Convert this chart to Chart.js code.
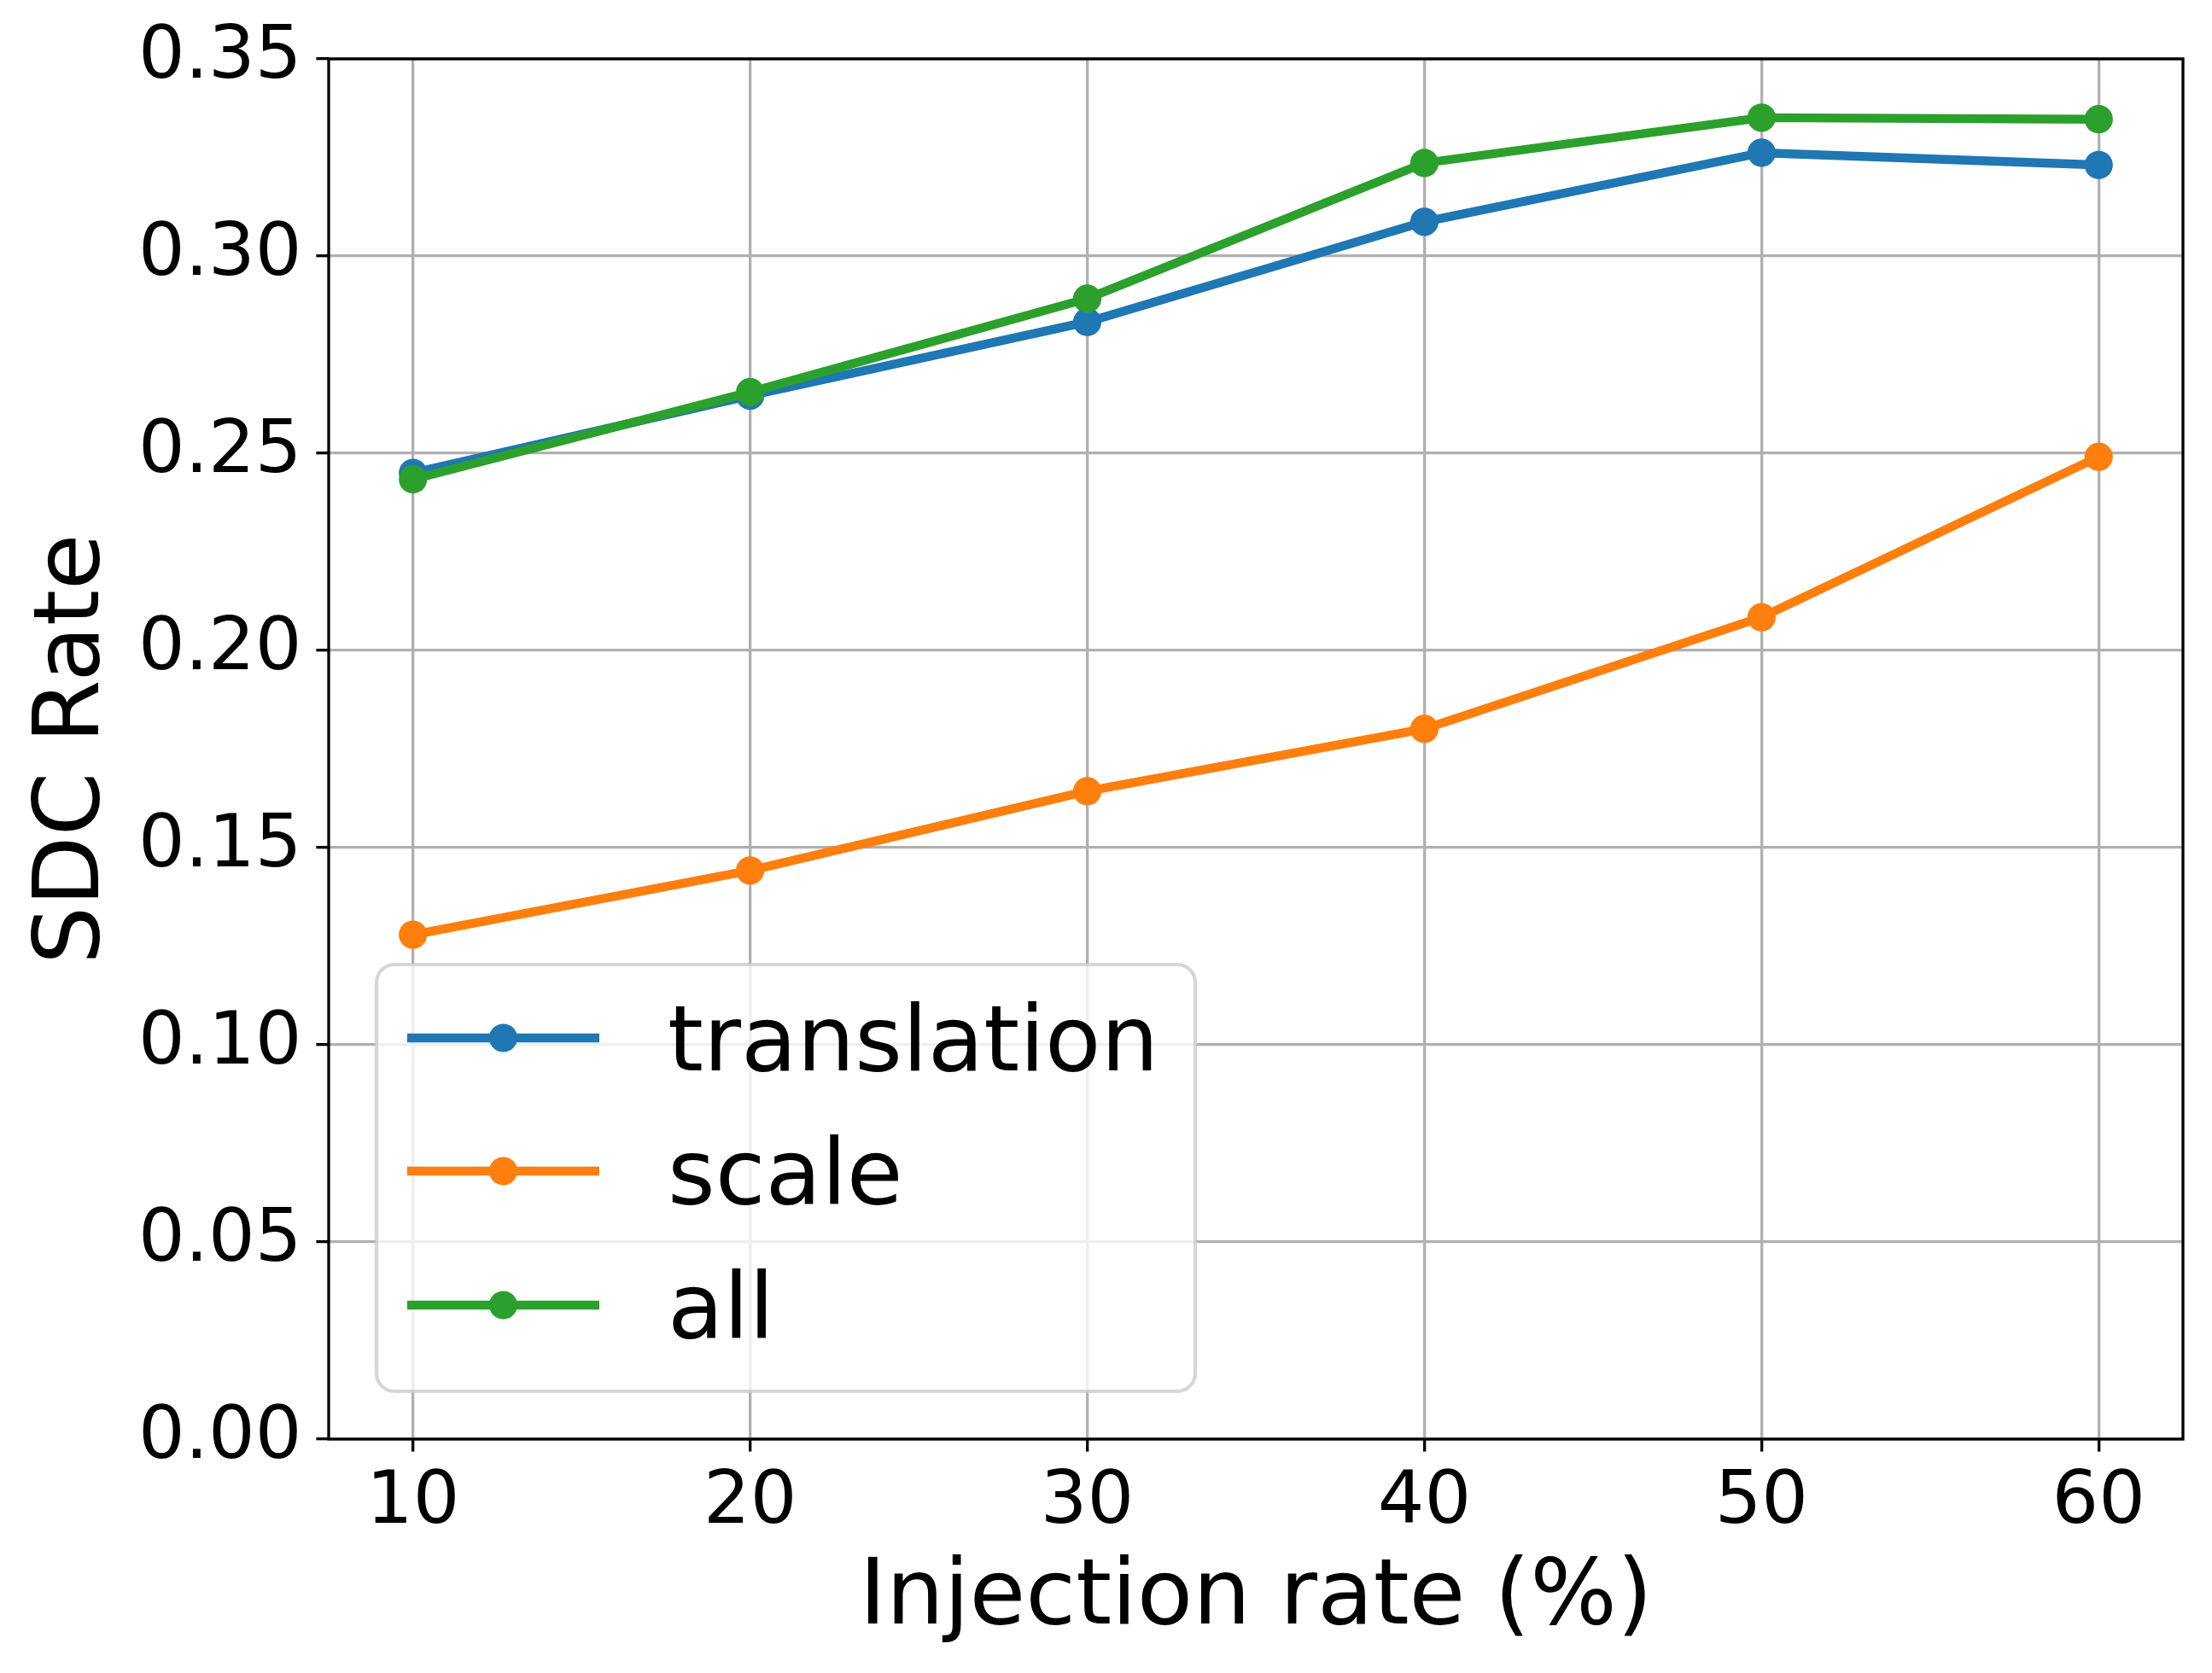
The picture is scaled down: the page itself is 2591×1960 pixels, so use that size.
<!DOCTYPE html>
<html>
<head>
<meta charset="utf-8">
<script src="https://cdn.jsdelivr.net/npm/chart.js@4/dist/chart.umd.min.js"></script>
<style>
  html, body { margin: 0; padding: 0; background: #ffffff; }
  #wrap { width: 2591px; height: 1960px; position: relative; }
  canvas { display: block; }
</style>
</head>
<body>
<div id="wrap"><canvas id="c" width="2591" height="1960"></canvas></div>
<script>
// ---- data ----
const injectionRates = [10, 20, 30, 40, 50, 60];
const translationSDC = [0.2450, 0.2646, 0.2833, 0.3087, 0.3262, 0.3231];
const scaleSDC       = [0.1279, 0.1442, 0.1643, 0.1801, 0.2084, 0.2491];
const allSDC         = [0.2434, 0.2655, 0.2892, 0.3236, 0.3351, 0.3347];
const seriesNames    = ['translation', 'scale', 'all'];
const xTickValues    = [10, 20, 30, 40, 50, 60];
const yTickValues    = [0.00, 0.05, 0.10, 0.15, 0.20, 0.25, 0.30, 0.35];
const xTitle = 'Injection rate (%)';
const yTitle = 'SDC Rate';

// ---- styles ----
const colors = ['#1f77b4', '#ff7f0e', '#2ca02c'];
const FONT = "'DejaVu Sans', sans-serif";
const TICKFS = 86;
const LABELFS = 107;
const LW = 10.4;        // line width
const MR = 16.6;        // marker radius
const AXLW = 3.33;      // axes / grid / tick width
const TICKLEN = 14.6;

function pts(ys) { return injectionRates.map((x, i) => ({ x: x, y: ys[i] })); }
const seriesValues = [translationSDC, scaleSDC, allSDC];

const datasets = seriesNames.map((name, i) => ({
  label: name,
  data: pts(seriesValues[i]),
  borderColor: colors[i],
  backgroundColor: colors[i],
  borderWidth: LW,
  pointRadius: MR,
  pointHoverRadius: MR,
  pointBorderWidth: 0,
  pointBackgroundColor: colors[i],
  tension: 0,
  fill: false,
  order: seriesNames.length - i,
  clip: false
}));

// frame + legend plugin
const framePlugin = {
  id: 'frameAndLegend',
  afterDraw(chart) {
    const ctx = chart.ctx;
    const a = chart.chartArea;
    ctx.save();
    // axes frame (all four spines)
    ctx.strokeStyle = '#000000';
    ctx.lineWidth = AXLW;
    ctx.lineJoin = 'miter';
    ctx.strokeRect(a.left, a.top, a.right - a.left, a.bottom - a.top);

    // legend box, lower-left inside axes
    const bx = a.left + 56, bw = 959, bh = 500;
    const by = a.bottom - 56 - bh;
    const r = 21;
    ctx.beginPath();
    ctx.moveTo(bx + r, by);
    ctx.lineTo(bx + bw - r, by);
    ctx.arcTo(bx + bw, by, bx + bw, by + r, r);
    ctx.lineTo(bx + bw, by + bh - r);
    ctx.arcTo(bx + bw, by + bh, bx + bw - r, by + bh, r);
    ctx.lineTo(bx + r, by + bh);
    ctx.arcTo(bx, by + bh, bx, by + bh - r, r);
    ctx.lineTo(bx, by + r);
    ctx.arcTo(bx, by, bx + r, by, r);
    ctx.closePath();
    ctx.fillStyle = 'rgba(255,255,255,0.8)';
    ctx.fill();
    ctx.lineWidth = 4.17;
    ctx.strokeStyle = 'rgba(204,204,204,0.8)';
    ctx.stroke();

    const rowOffsets = [86, 242, 399];
    chart.data.datasets.forEach((ds, i) => {
      const ry = by + rowOffsets[i];
      ctx.strokeStyle = ds.borderColor;
      ctx.lineWidth = LW;
      ctx.lineCap = 'butt';
      ctx.beginPath();
      ctx.moveTo(bx + 36, ry);
      ctx.lineTo(bx + 261, ry);
      ctx.stroke();
      ctx.fillStyle = ds.borderColor;
      ctx.beginPath();
      ctx.arc(bx + 148.5, ry, MR, 0, Math.PI * 2);
      ctx.fill();
      ctx.fillStyle = '#000000';
      ctx.font = LABELFS + 'px ' + FONT;
      ctx.textAlign = 'left';
      ctx.textBaseline = 'alphabetic';
      ctx.fillText(ds.label, bx + 341, ry + 38);
    });
    ctx.restore();
  }
};

new Chart(document.getElementById('c'), {
  type: 'line',
  data: { datasets: datasets },
  options: {
    responsive: false,
    devicePixelRatio: 1,
    animation: false,
    events: [],
    layout: { autoPadding: false, padding: { top: 69, right: 34, left: 0, bottom: 0 } },
    plugins: { legend: { display: false }, tooltip: { enabled: false } },
    scales: {
      x: {
        type: 'linear',
        min: 7.5,
        max: 62.5,
        afterBuildTicks(scale) { scale.ticks = xTickValues.map(v => ({ value: v })); },
        afterFit(scale) { scale.height = 274; },
        ticks: {
          font: { family: FONT, size: TICKFS },
          color: '#000000',
          padding: 9,
          maxRotation: 0,
          autoSkip: false,
          callback: (v) => String(v)
        },
        grid: {
          color: '#b0b0b0',
          lineWidth: AXLW,
          drawTicks: true,
          tickLength: TICKLEN,
          tickColor: '#000000',
          tickWidth: AXLW
        },
        border: { display: false },
        title: {
          display: true,
          text: xTitle,
          color: '#000000',
          font: { family: FONT, size: LABELFS },
          padding: { top: 0, bottom: 22 }
        }
      },
      y: {
        type: 'linear',
        min: 0,
        max: 0.35,
        afterBuildTicks(scale) { scale.ticks = yTickValues.map(v => ({ value: v })); },
        afterFit(scale) { scale.width = 385; },
        ticks: {
          font: { family: FONT, size: TICKFS },
          color: '#000000',
          padding: 17,
          autoSkip: false,
          callback: (v) => Number(v).toFixed(2)
        },
        grid: {
          color: '#b0b0b0',
          lineWidth: AXLW,
          drawTicks: true,
          tickLength: TICKLEN,
          tickColor: '#000000',
          tickWidth: AXLW
        },
        border: { display: false },
        title: {
          display: true,
          text: yTitle,
          color: '#000000',
          font: { family: FONT, size: LABELFS },
          padding: { top: 23, bottom: 0 }
        }
      }
    }
  },
  plugins: [framePlugin]
});
</script>
</body>
</html>
